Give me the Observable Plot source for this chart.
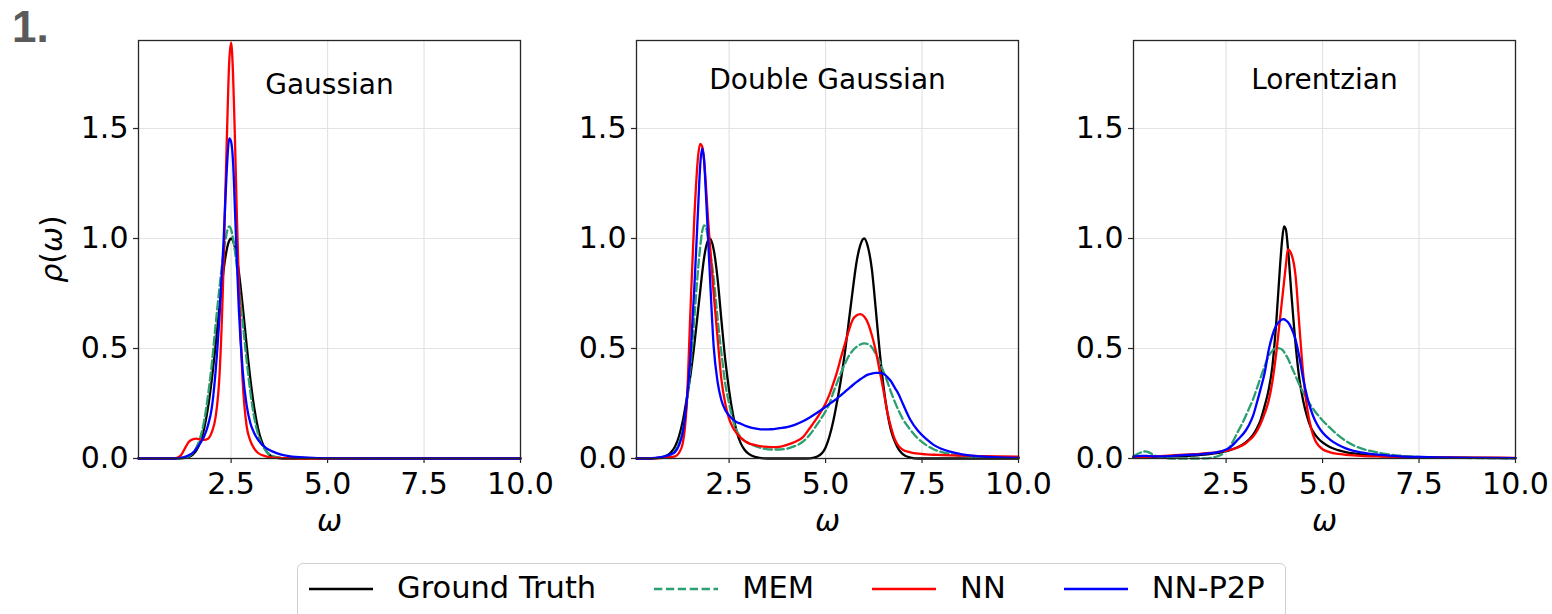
<!DOCTYPE html>
<html>
<head>
<meta charset="utf-8">
<script src="https://cdn.jsdelivr.net/npm/d3@7"></script>
<script src="https://cdn.jsdelivr.net/npm/@observablehq/plot@0.6"></script>
<style>
  html, body { margin: 0; padding: 0; background: #ffffff; }
  #root { position: relative; width: 1552px; height: 614px; overflow: hidden; font-family: "DejaVu Sans", sans-serif; }
  .panel { position: absolute; top: 0; }
  .panel svg { overflow: visible; }
  #overlay { position: absolute; left: 0; top: 0; pointer-events: none; overflow: visible; }
  #legend { position: absolute; left: 297px; top: 563px; width: 989px; height: 64px; box-sizing: border-box;
            border: 1px solid #cfcfcf; border-radius: 6px; background: #fff; }
  #legend .row { display: flex; align-items: center; height: 49px; padding-left: 11px; }
  #legend .item { display: flex; align-items: center; margin-right: 58px; }
  #legend .item:last-child { margin-right: 0; }
  #legend .lbl { margin-left: 24px; font-family: "DejaVu Sans", sans-serif; font-size: 30.5px; color: #000; white-space: nowrap; line-height: 1; }
</style>
</head>
<body>
<div id="root"></div>
<script>
// ---------- chart data ----------
const xTicks = [2.5, 5, 7.5, 10];
const yTicks = [0, 0.5, 1, 1.5];
const seriesNames = ["Ground Truth", "MEM", "NN", "NN-P2P"];
const seriesColors = ["#000000", "#2b9f70", "#ff0000", "#0000ff"];
const seriesDashes = [null, "8.3,3.6", null, null];
const panelTitles = ["Gaussian", "Double Gaussian", "Lorentzian"];

// Panel 1: Gaussian
const gaussOmega = [0.1, 1.0, 1.1, 1.2, 1.3, 1.4, 1.5, 1.6, 1.7, 1.8, 1.9, 2.0, 2.1, 2.2, 2.3, 2.35, 2.4, 2.45, 2.5, 2.55, 2.6, 2.65, 2.7, 2.8, 2.9, 3.0, 3.1, 3.2, 3.4, 3.6, 3.8, 4.0, 4.5, 5.0, 6.0, 10.0];
const gaussTruth = [0, 0, 0.0003, 0.001, 0.003, 0.007, 0.017, 0.037, 0.073, 0.135, 0.23, 0.36, 0.52, 0.693, 0.849, 0.912, 0.96, 0.99, 1.0, 0.99, 0.96, 0.912, 0.849, 0.693, 0.52, 0.36, 0.23, 0.135, 0.037, 0.007, 0.001, 0, 0, 0, 0, 0];
const gaussMEM = [0, 0, 0.001, 0.002, 0.004, 0.01, 0.024, 0.05, 0.095, 0.17, 0.285, 0.43, 0.61, 0.78, 0.93, 0.99, 1.035, 1.055, 1.04, 1.0, 0.94, 0.87, 0.79, 0.62, 0.45, 0.30, 0.185, 0.11, 0.035, 0.01, 0.003, 0.001, 0, 0, 0, 0];
const gaussNN = [0, 0, 0.003, 0.015, 0.045, 0.075, 0.087, 0.09, 0.086, 0.085, 0.09, 0.12, 0.19, 0.38, 0.85, 1.2, 1.52, 1.8, 1.89, 1.75, 1.45, 1.1, 0.8, 0.35, 0.15, 0.08, 0.045, 0.025, 0.01, 0.004, 0.002, 0.001, 0, 0, 0, 0];
const gaussP2P = [0, 0, 0.001, 0.003, 0.007, 0.015, 0.025, 0.045, 0.07, 0.10, 0.15, 0.23, 0.40, 0.65, 0.97, 1.17, 1.35, 1.455, 1.44, 1.35, 1.13, 0.90, 0.68, 0.40, 0.245, 0.16, 0.115, 0.085, 0.048, 0.03, 0.018, 0.011, 0.004, 0.001, 0, 0];

// Panel 2: Double Gaussian
const dgOmega = [0.1, 0.4, 0.6, 0.8, 0.9, 1.0, 1.1, 1.2, 1.3, 1.4, 1.5, 1.6, 1.7, 1.75, 1.8, 1.85, 1.9, 1.95, 2.0, 2.1, 2.2, 2.3, 2.4, 2.5, 2.6, 2.7, 2.8, 2.9, 3.0, 3.2, 3.4, 3.6, 3.8, 4.0, 4.2, 4.4, 4.6, 4.8, 5.0, 5.1, 5.2, 5.3, 5.4, 5.5, 5.6, 5.7, 5.8, 5.9, 6.0, 6.1, 6.2, 6.3, 6.4, 6.5, 6.6, 6.7, 6.8, 6.9, 7.0, 7.2, 7.4, 7.6, 7.8, 8.0, 8.5, 9.0, 9.5, 10.0];
const dgTruth = [0, 0, 0.002, 0.008, 0.015, 0.03, 0.055, 0.1, 0.17, 0.27, 0.38, 0.52, 0.68, 0.76, 0.84, 0.91, 0.96, 0.99, 1.0, 0.95, 0.82, 0.63, 0.45, 0.31, 0.2, 0.12, 0.07, 0.04, 0.022, 0.006, 0.001, 0, 0, 0, 0, 0, 0.001, 0.01, 0.05, 0.10, 0.17, 0.26, 0.36, 0.48, 0.62, 0.76, 0.89, 0.97, 1.0, 0.96, 0.86, 0.68, 0.49, 0.33, 0.21, 0.125, 0.075, 0.04, 0.02, 0.004, 0, 0, 0, 0, 0, 0, 0, 0];
const dgMEM = [0, 0, 0.001, 0.005, 0.01, 0.018, 0.035, 0.07, 0.13, 0.24, 0.42, 0.64, 0.87, 0.96, 1.03, 1.06, 1.05, 1.01, 0.95, 0.82, 0.64, 0.48, 0.34, 0.25, 0.175, 0.125, 0.097, 0.08, 0.07, 0.055, 0.045, 0.041, 0.041, 0.045, 0.056, 0.075, 0.11, 0.16, 0.215, 0.25, 0.30, 0.345, 0.39, 0.43, 0.465, 0.49, 0.507, 0.518, 0.523, 0.52, 0.505, 0.475, 0.44, 0.395, 0.35, 0.30, 0.255, 0.215, 0.18, 0.13, 0.09, 0.062, 0.042, 0.03, 0.012, 0.006, 0.004, 0.003];
const dgNN = [0, 0, 0.001, 0.003, 0.005, 0.007, 0.01, 0.025, 0.07, 0.24, 0.68, 1.10, 1.38, 1.43, 1.42, 1.36, 1.24, 1.10, 0.98, 0.75, 0.55, 0.36, 0.25, 0.18, 0.14, 0.114, 0.095, 0.08, 0.07, 0.06, 0.054, 0.052, 0.053, 0.062, 0.075, 0.095, 0.14, 0.19, 0.25, 0.29, 0.34, 0.395, 0.46, 0.52, 0.58, 0.63, 0.65, 0.656, 0.645, 0.615, 0.56, 0.49, 0.40, 0.31, 0.21, 0.14, 0.085, 0.055, 0.04, 0.028, 0.022, 0.019, 0.017, 0.016, 0.013, 0.011, 0.009, 0.008];
const dgP2P = [0, 0, 0.003, 0.008, 0.013, 0.02, 0.03, 0.06, 0.12, 0.26, 0.47, 0.78, 1.15, 1.33, 1.41, 1.36, 1.2, 1.02, 0.84, 0.51, 0.35, 0.265, 0.22, 0.195, 0.178, 0.165, 0.158, 0.15, 0.144, 0.136, 0.132, 0.133, 0.138, 0.143, 0.153, 0.168, 0.188, 0.21, 0.235, 0.248, 0.26, 0.273, 0.288, 0.303, 0.318, 0.333, 0.347, 0.36, 0.372, 0.381, 0.386, 0.389, 0.389, 0.385, 0.37, 0.35, 0.32, 0.29, 0.25, 0.175, 0.125, 0.09, 0.062, 0.044, 0.02, 0.01, 0.005, 0.003];

// Panel 3: Lorentzian
const lorOmega = [0.1, 0.2, 0.3, 0.4, 0.5, 0.6, 0.7, 0.8, 1.0, 1.2, 1.4, 1.6, 1.8, 2.0, 2.2, 2.4, 2.6, 2.8, 3.0, 3.1, 3.2, 3.3, 3.4, 3.5, 3.6, 3.7, 3.8, 3.9, 3.95, 4.0, 4.05, 4.1, 4.2, 4.3, 4.4, 4.5, 4.6, 4.7, 4.8, 4.9, 5.0, 5.2, 5.4, 5.6, 5.8, 6.0, 6.5, 7.0, 7.5, 8.0, 9.0, 10.0];
const lorTruth = [0.005, 0.005, 0.006, 0.006, 0.006, 0.007, 0.007, 0.008, 0.009, 0.01, 0.011, 0.013, 0.015, 0.019, 0.023, 0.029, 0.038, 0.051, 0.072, 0.0875, 0.108, 0.137, 0.178, 0.239, 0.31, 0.42, 0.62, 0.88, 0.99, 1.055, 1.04, 0.96, 0.73, 0.52, 0.36, 0.26, 0.19, 0.14, 0.11, 0.089, 0.073, 0.051, 0.038, 0.029, 0.023, 0.019, 0.012, 0.0085, 0.0063, 0.0048, 0.003, 0.002];
const lorMEM = [0.01, 0.02, 0.028, 0.032, 0.028, 0.018, 0.01, 0.005, 0.001, 0, 0, 0, 0, 0.001, 0.006, 0.02, 0.055, 0.12, 0.19, 0.23, 0.27, 0.32, 0.37, 0.42, 0.465, 0.49, 0.502, 0.5, 0.495, 0.485, 0.47, 0.455, 0.415, 0.375, 0.335, 0.30, 0.268, 0.24, 0.215, 0.193, 0.173, 0.138, 0.106, 0.08, 0.06, 0.046, 0.025, 0.013, 0.007, 0.004, 0.002, 0.001];
const lorNN = [0.005, 0.006, 0.007, 0.007, 0.008, 0.009, 0.01, 0.011, 0.013, 0.015, 0.017, 0.019, 0.021, 0.024, 0.027, 0.032, 0.039, 0.05, 0.068, 0.083, 0.10, 0.125, 0.16, 0.205, 0.26, 0.35, 0.48, 0.64, 0.72, 0.80, 0.88, 0.95, 0.925, 0.83, 0.60, 0.38, 0.23, 0.14, 0.085, 0.058, 0.042, 0.028, 0.021, 0.017, 0.014, 0.012, 0.009, 0.007, 0.006, 0.005, 0.004, 0.003];
const lorP2P = [0.008, 0.011, 0.012, 0.012, 0.011, 0.01, 0.01, 0.01, 0.011, 0.013, 0.015, 0.017, 0.019, 0.022, 0.027, 0.034, 0.05, 0.085, 0.125, 0.155, 0.195, 0.255, 0.32, 0.39, 0.49, 0.56, 0.605, 0.625, 0.632, 0.633, 0.628, 0.62, 0.59, 0.54, 0.46, 0.36, 0.28, 0.22, 0.175, 0.143, 0.118, 0.085, 0.062, 0.046, 0.035, 0.028, 0.016, 0.01, 0.007, 0.005, 0.003, 0.002];

// ---------- build panels ----------
const panels = [
  { title: panelTitles[0], omega: gaussOmega, values: [gaussTruth, gaussMEM, gaussNN, gaussP2P], frameLeft: 138, titleDy: 34 },
  { title: panelTitles[1], omega: dgOmega, values: [dgTruth, dgMEM, dgNN, dgP2P], frameLeft: 636, titleDy: 29 },
  { title: panelTitles[2], omega: lorOmega, values: [lorTruth, lorMEM, lorNN, lorP2P], frameLeft: 1133, titleDy: 29 }
];
panels.forEach(p => p.values.forEach((v, i) => {
  if (v.length !== p.omega.length) throw new Error(p.title + " series " + i + " length " + v.length + " vs " + p.omega.length);
}));

const M = { left: 90, right: 36, top: 40, bottom: 80 };
const frameW = 382, frameH = 418;
const fmt = d3.format(".1f");
const root = document.getElementById("root");

panels.forEach(p => {
  const marks = [
    Plot.gridX({ ticks: xTicks, stroke: "#e3e3e3", strokeOpacity: 1, strokeWidth: 1.2 }),
    Plot.gridY({ ticks: yTicks.slice(1), stroke: "#e3e3e3", strokeOpacity: 1, strokeWidth: 1.2 })
  ];
  p.values.forEach((vals, i) => {
    const rows = p.omega.map((w, j) => ({ omega: w, rho: vals[j], series: seriesNames[i] }));
    const opts = { x: "omega", y: "rho", stroke: seriesColors[i], strokeWidth: 2.3, curve: "monotone-x" };
    if (seriesDashes[i]) opts.strokeDasharray = seriesDashes[i];
    marks.push(Plot.line(rows, opts));
  });
  marks.push(
    Plot.frame({ stroke: "#262626", strokeWidth: 1.3 }),
    Plot.axisX({ ticks: xTicks, tickFormat: fmt, tickSize: 5, tickPadding: 9, label: null, fontSize: 30, stroke: "#262626", strokeWidth: 1.2 }),
    Plot.axisY({ ticks: yTicks, tickFormat: fmt, tickSize: 5, tickPadding: 5, label: null, fontSize: 30, stroke: "#262626", strokeWidth: 1.2 }),
    Plot.text([p.title], { frameAnchor: "top", dy: p.titleDy, fontSize: 28, fill: "#000" }),
    Plot.text(["ω"], { frameAnchor: "bottom", dy: 72, fontSize: 30, fontStyle: "italic", fill: "#000" })
  );
  const chart = Plot.plot({
    width: M.left + frameW + M.right,
    height: M.top + frameH + M.bottom,
    marginLeft: M.left, marginRight: M.right, marginTop: M.top, marginBottom: M.bottom,
    x: { domain: [0.1, 10] },
    y: { domain: [0, 1.9] },
    style: { fontFamily: "DejaVu Sans, sans-serif", fontSize: "30px", color: "#000", background: "transparent", overflow: "visible" },
    marks
  });
  const div = document.createElement("div");
  div.className = "panel";
  div.style.left = (p.frameLeft - M.left) + "px";
  div.appendChild(chart);
  root.appendChild(div);
});

// ---------- overlay texts: panel number and y label ----------
const ns = "http://www.w3.org/2000/svg";
const ov = document.createElementNS(ns, "svg");
ov.setAttribute("id", "overlay");
ov.setAttribute("width", 1552);
ov.setAttribute("height", 614);
const num = document.createElementNS(ns, "text");
num.setAttribute("x", 12);
num.setAttribute("y", 42);
num.setAttribute("font-family", "Liberation Sans, Arial, sans-serif");
num.setAttribute("font-weight", "bold");
num.setAttribute("font-size", 44);
num.setAttribute("fill", "#5a5a5a");
num.textContent = "1.";
ov.appendChild(num);
const yl = document.createElementNS(ns, "text");
yl.setAttribute("transform", "translate(62,249) rotate(-90)");
yl.setAttribute("text-anchor", "middle");
yl.setAttribute("font-family", "DejaVu Sans, sans-serif");
yl.setAttribute("font-size", 30);
[["ρ", true], ["(", false], ["ω", true], [")", false]].forEach(([t, it]) => {
  const ts = document.createElementNS(ns, "tspan");
  if (it) ts.setAttribute("font-style", "italic");
  ts.textContent = t;
  yl.appendChild(ts);
});
ov.appendChild(yl);
root.appendChild(ov);

// ---------- legend ----------
const lg = document.createElement("div");
lg.id = "legend";
const row = document.createElement("div");
row.className = "row";
seriesNames.forEach((name, i) => {
  const item = document.createElement("div");
  item.className = "item";
  const s = document.createElementNS(ns, "svg");
  s.setAttribute("width", 64); s.setAttribute("height", 20);
  const ln = document.createElementNS(ns, "line");
  ln.setAttribute("x1", 0); ln.setAttribute("x2", 64); ln.setAttribute("y1", 10); ln.setAttribute("y2", 10);
  ln.setAttribute("stroke", seriesColors[i]); ln.setAttribute("stroke-width", 2.3);
  if (seriesDashes[i]) ln.setAttribute("stroke-dasharray", seriesDashes[i]);
  s.appendChild(ln);
  const t = document.createElement("span");
  t.className = "lbl";
  t.textContent = name;
  item.appendChild(s); item.appendChild(t);
  row.appendChild(item);
});
lg.appendChild(row);
root.appendChild(lg);
</script>
</body>
</html>
